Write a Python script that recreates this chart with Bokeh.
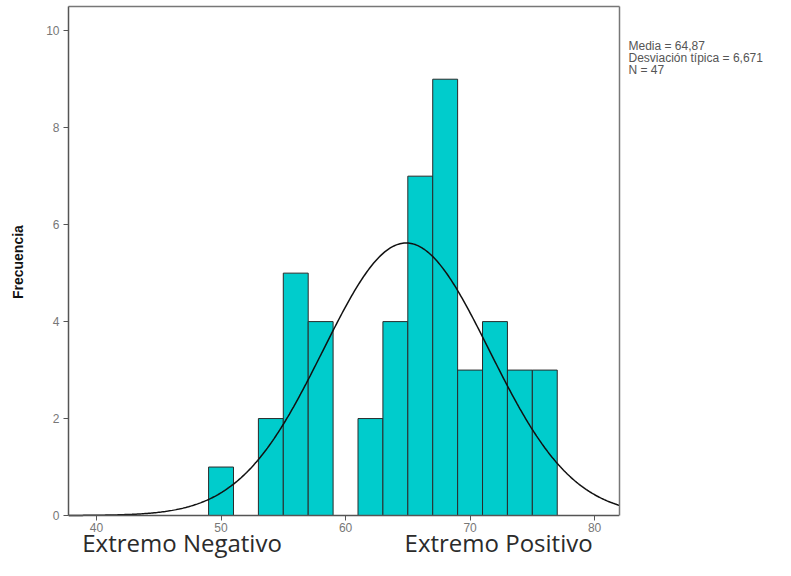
import numpy as np
from bokeh.plotting import figure
from bokeh.models import Range1d, FixedTicker, LinearAxis, ColumnDataSource, Label
from bokeh.embed import file_html
from bokeh.resources import INLINE

# Histogram data (bins of width 2)
bin_left = [49, 53, 55, 57, 61, 63, 65, 67, 69, 71, 73, 75]
counts = [1, 2, 5, 4, 2, 4, 7, 9, 3, 4, 3, 3]
bin_width = 2
mean = 64.87
sd = 6.671
n = 47
x_ticks = [40, 50, 60, 70, 80]
y_ticks = [0, 2, 4, 6, 8, 10]
stats_lines = ["Media = 64,87", "Desviación típica = 6,671", "N = 47"]
bottom_labels = ["Extremo Negativo", "Extremo Positivo"]

W, H = 775, 560
Y_TOP = 10.5
p = figure(width=W, height=H, output_backend="svg", toolbar_location=None,
           x_range=Range1d(37.75, 82.0), y_range=Range1d(-0.928, Y_TOP),
           min_border_left=68, min_border_right=156, min_border_top=6,
           min_border_bottom=0)
p.grid.visible = False
p.outline_line_color = None

src = ColumnDataSource(dict(
    left=bin_left,
    right=[b + bin_width for b in bin_left],
    top=counts,
    bottom=[0] * len(counts),
))
p.quad(left="left", right="right", top="top", bottom="bottom", source=src,
       fill_color="#00CCCC", line_color="#2a2a2a", line_width=1)

xs = np.linspace(37.75, 82.0, 400)
ys = n * bin_width * np.exp(-0.5 * ((xs - mean) / sd) ** 2) / (sd * np.sqrt(2 * np.pi))
p.line(xs, ys, line_color="#111111", line_width=1.5)

xax = p.xaxis[0]
yax = p.yaxis[0]
xax.fixed_location = 0
yax.bounds = (0, Y_TOP)
for ax in (xax, yax):
    ax.axis_line_color = "#555555"
    ax.axis_line_width = 1.5
    ax.major_tick_line_color = "#555555"
    ax.major_tick_out = 5
    ax.major_tick_in = 0
    ax.minor_tick_line_color = None
    ax.major_label_text_font = "Liberation Sans"
    ax.major_label_text_font_size = "12px"
    ax.major_label_text_color = "#777777"

xax.ticker = FixedTicker(ticks=x_ticks)
xax.major_label_standoff = 2
yax.ticker = FixedTicker(ticks=y_ticks)
yax.major_label_standoff = 4
yax.axis_label = "\u00a0" * 11 + "Frecuencia"
yax.axis_label_text_font = "Liberation Sans"
yax.axis_label_text_font_style = "bold"
yax.axis_label_text_font_size = "14px"
yax.axis_label_text_color = "#111111"
yax.axis_label_standoff = 17

# top border of the plot box
tax = LinearAxis(ticker=FixedTicker(ticks=[]))
tax.axis_line_color = "#777777"
tax.axis_line_width = 1.5
tax.major_tick_line_color = None
tax.minor_tick_line_color = None
tax.major_label_text_font_size = "0px"
p.add_layout(tax, "above")

# right border of the plot box, carrying the statistics text
stats_pos = [9.69, 9.44, 9.19]
rax = LinearAxis(ticker=FixedTicker(ticks=stats_pos), bounds=(0, Y_TOP),
                 major_label_overrides={stats_pos[i]: stats_lines[i] for i in range(3)})
rax.axis_line_color = "#777777"
rax.axis_line_width = 1.5
rax.major_tick_line_color = None
rax.minor_tick_line_color = None
rax.major_label_standoff = 3
rax.major_label_text_font = "Liberation Sans"
rax.major_label_text_font_size = "12px"
rax.major_label_text_color = "#555555"
p.add_layout(rax, "right")

# Bottom descriptive labels
bottom_x = [46.87, 72.29]
for xpos, t in zip(bottom_x, bottom_labels):
    p.add_layout(Label(x=xpos, y=-0.90, text=t, text_font="Open Sans",
                       text_font_size="24px", text_color="#2b2b2b",
                       text_align="center", text_baseline="bottom"))

open("out.html", "w").write(file_html(p, INLINE))
